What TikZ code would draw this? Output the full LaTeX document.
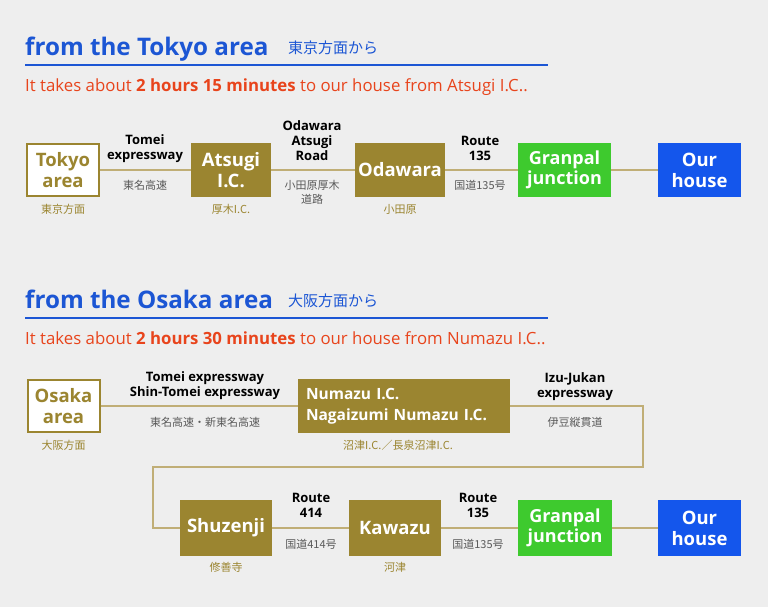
\documentclass[tikz,border=0pt]{standalone}
\usepackage{fontspec}
\setmainfont{Open Sans}
\newfontfamily\jp{Noto Sans CJK JP}
\definecolor{bgc}{RGB}{238,238,238}
\definecolor{gold}{RGB}{155,133,48}
\definecolor{conn}{RGB}{192,174,118}
\definecolor{ttl}{RGB}{28,86,212}
\definecolor{redt}{RGB}{232,68,28}
\definecolor{grn}{RGB}{62,202,46}
\definecolor{hblue}{RGB}{20,86,236}
\definecolor{jgray}{RGB}{90,90,90}
\tikzset{
  box/.style={inner sep=0pt, align=center, font=\bfseries\fontsize{18.5}{21}\selectfont, text=white},
  goldbox/.style={box, fill=gold},
  areabox/.style={box, fill=white, draw=gold, line width=2pt, text=gold},
  grnbox/.style={box, fill=grn, font=\bfseries\fontsize{18}{20}\selectfont},
  housebox/.style={box, fill=hblue},
  road/.style={font=\bfseries\fontsize{13}{15}\selectfont, align=center, inner sep=0pt},
  jroad/.style={font=\jp\fontsize{11}{14.5}\selectfont, text=jgray, align=center, inner sep=0pt},
  jplace/.style={font=\jp\fontsize{11}{12}\selectfont, text=gold, inner sep=0pt},
  title/.style={font=\bfseries\fontsize{24.2}{26}\selectfont, text=ttl, anchor=base west, inner sep=0pt},
  jtitle/.style={font=\jp\fontsize{15}{15}\selectfont, text=ttl, anchor=base west, inner sep=0pt},
  sub/.style={font=\fontsize{16.8}{18}\selectfont, text=redt, anchor=base west, inner sep=0pt},
  conline/.style={draw=conn, line width=2.5pt},
  rule/.style={draw=ttl, line width=2pt}
}
\begin{document}
\begin{tikzpicture}[x=1pt,y=-1pt]
\fill[bgc] (0,0) rectangle (768,607);
\useasboundingbox (0,0) rectangle (768,607);

% ---------- Tokyo section ----------
\node[title] (t1) at (25,56) {from the Tokyo area};
\node[jtitle] (j1) at (288,54) {東京方面から};
\coordinate (r1a) at (25,65);
\coordinate (r1b) at (548,65);
\draw[rule] (r1a) -- (r1b);
\node[sub] (s1) at (25,92) {It takes about \textbf{2 hours 15 minutes} to our house from Atsugi I.C..};

\node[areabox, minimum width=72pt, minimum height=52pt] (tokyo) at (63,170) {Tokyo\\area};
\node[goldbox, minimum width=80pt, minimum height=54pt] (atsugi) at (231,170) {Atsugi\\I.C.};
\node[goldbox, minimum width=90pt, minimum height=54pt] (odawara) at (400,170) {Odawara};
\node[grnbox, minimum width=93pt, minimum height=54pt] (gran1) at (564.5,170) {Granpal\\junction};
\node[housebox, minimum width=83pt, minimum height=54pt] (house1) at (699.5,170) {Our\\house};

\draw[conline] (tokyo.east) -- (atsugi.west);
\draw[conline] (atsugi.east) -- (odawara.west);
\draw[conline] (odawara.east) -- (gran1.west);
\draw[conline] (gran1.east) -- (house1.west);

\node[jplace] (tokyoj) at (63,209) {東京方面};
\node[jplace] (atsugij) at (231,209) {厚木I.C.};
\node[jplace] (odawaraj) at (400,209) {小田原};

\node[road] (rd1) at (145,148.5) {Tomei\\expressway};
\node[jroad] (rd1j) at (145,185) {東名高速};
\node[road] (rd2) at (312,141) {Odawara\\Atsugi\\Road};
\node[jroad] (rd2j) at (312,192.5) {小田原厚木\\道路};
\node[road] (rd3) at (480,148.5) {Route\\135};
\node[jroad] (rd3j) at (480,185) {国道135号};

% ---------- Osaka section ----------
\node[title] (t2) at (25,308) {from the Osaka area};
\node[jtitle] (j2) at (288,306) {大阪方面から};
\coordinate (r2a) at (25,318);
\coordinate (r2b) at (548,318);
\draw[rule] (r2a) -- (r2b);
\node[sub] (s2) at (25,344) {It takes about \textbf{2 hours 30 minutes} to our house from Numazu I.C..};

\node[areabox, minimum width=72pt, minimum height=52pt] (osaka) at (63.5,406) {Osaka\\area};
\node[goldbox, minimum width=212pt, minimum height=54pt, text width=196pt, align=left,
  font=\bfseries\fontsize{15.5}{21}\selectfont] (numazu) at (404,406) {Numazu I.C.\\Nagaizumi Numazu I.C.};
\node[goldbox, minimum width=92pt, minimum height=56pt] (shuzenji) at (226,528) {Shuzenji};
\node[goldbox, minimum width=92pt, minimum height=56pt] (kawazu) at (395,528) {Kawazu};
\node[grnbox, minimum width=94pt, minimum height=56pt] (gran2) at (565,528) {Granpal\\junction};
\node[housebox, minimum width=83pt, minimum height=56pt] (house2) at (699.5,528) {Our\\house};

\coordinate (c2) at (643,467);
\coordinate (c4) at (153,528);
\draw[conline] (osaka.east) -- (numazu.west);
\draw[conline] (numazu.east) -| (c2) -| (c4) -- (shuzenji.west);
\draw[conline] (shuzenji.east) -- (kawazu.west);
\draw[conline] (kawazu.east) -- (gran2.west);
\draw[conline] (gran2.east) -- (house2.west);

\node[jplace] (osakaj) at (63.5,445) {大阪方面};
\node[jplace] (numazuj) at (398,445) {沼津I.C.／長泉沼津I.C.};
\node[jplace] (shuzenjij) at (226,567) {修善寺};
\node[jplace] (kawazuj) at (395,567) {河津};

\node[road] (rd4) at (205,385.5) {Tomei expressway\\Shin-Tomei expressway};
\node[jroad] (rd4j) at (205,422) {東名高速・新東名高速};
\node[road] (rd5) at (575,386.5) {Izu-Jukan\\expressway};
\node[jroad] (rd5j) at (575,422) {伊豆縦貫道};
\node[road] (rd6) at (311,505.5) {Route\\414};
\node[jroad] (rd6j) at (311,544) {国道414号};
\node[road] (rd7) at (478,505.5) {Route\\135};
\node[jroad] (rd7j) at (478,544) {国道135号};
\end{tikzpicture}
\end{document}
